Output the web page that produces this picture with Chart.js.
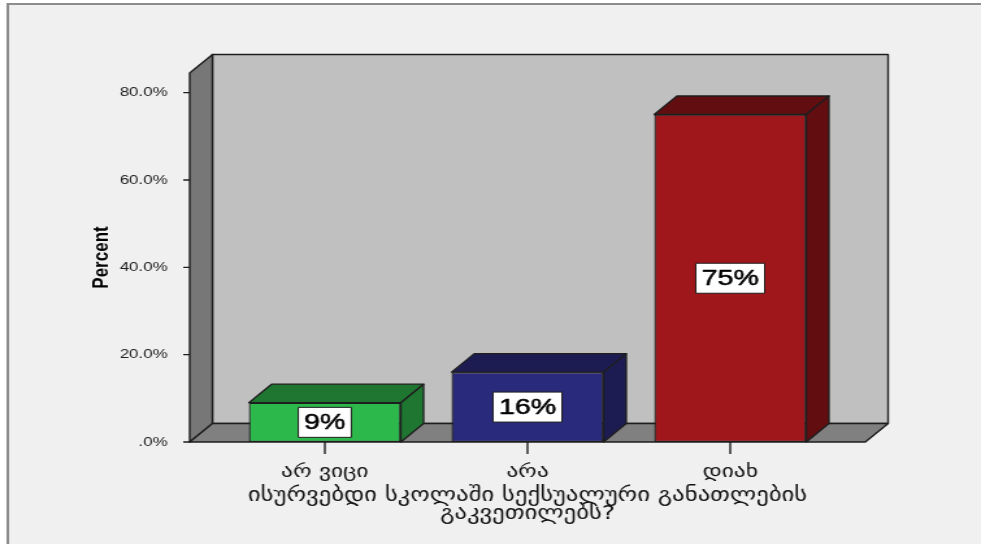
<!DOCTYPE html>
<html>
<head>
<meta charset="utf-8">
<script src="https://cdn.jsdelivr.net/npm/chart.js@4.4.1/dist/chart.umd.min.js"></script>
<style>
  html, body { margin: 0; padding: 0; background: #fff; overflow: hidden; }
  /* chart is laid out narrow and widened sideways, like the exported SPSS picture */
  #wrap { width: 755px; height: 544px; transform: scale(1.2993, 1); transform-origin: 0 0; }
</style>
</head>
<body>
<div id="wrap"><canvas id="surveyChart" width="755" height="544"></canvas></div>
<script>
const categories = ['არ ვიცი', 'არა', 'დიახ'];
const percentValues = [9, 16, 75];
const barColors = ['#2db84b', '#2a2a7c', '#a0171b'];
const barShadeColors = ['#1e7631', '#1c1c52', '#620e11'];
const yTickValues = [0, 20, 40, 60, 80];
const xTitleLines = ['ისურვებდი სკოლაში სექსუალური განათლების', 'გაკვეთილებს?'];

const DEPTH_X = 17.5;
const DEPTH_Y = 18.5;
const SIDE_GAP = 26;
const EDGE = '#1e1e1e';

function poly(ctx, pts, fill) {
    ctx.beginPath();
    ctx.moveTo(pts[0][0], pts[0][1]);
    for (let i = 1; i < pts.length; i++) ctx.lineTo(pts[i][0], pts[i][1]);
    ctx.closePath();
    ctx.fillStyle = fill;
    ctx.fill();
    ctx.stroke();
}

// walls, floor and bar depth faces drawn around the normal bar chart
const box3d = {
    id: 'box3d',
    beforeDraw(chart) {
        const ctx = chart.ctx;
        ctx.save();
        ctx.fillStyle = '#ffffff';
        ctx.fillRect(0, 0, chart.width, chart.height);
        ctx.fillStyle = '#f0f0f0';
        ctx.fillRect(6, 4, chart.width, chart.height);
        ctx.strokeStyle = '#8c8c8c';
        ctx.lineWidth = 2;
        ctx.beginPath();
        ctx.moveTo(6, chart.height);
        ctx.lineTo(6, 4);
        ctx.lineTo(chart.width, 4);
        ctx.stroke();
        ctx.restore();
    },
    beforeDatasetsDraw(chart) {
        const {ctx, chartArea, scales} = chart;
        const x0 = chartArea.left - SIDE_GAP;
        const x1 = chartArea.right + SIDE_GAP;
        const top = scales.y.getPixelForValue(scales.y.max);
        const bottom = scales.y.getPixelForValue(0);
        const dx = DEPTH_X, dy = DEPTH_Y;
        ctx.save();
        ctx.strokeStyle = EDGE;
        ctx.lineWidth = 1.4;
        ctx.lineJoin = 'round';
        poly(ctx, [[x0 + dx, top - dy], [x1 + dx, top - dy], [x1 + dx, bottom - dy], [x0 + dx, bottom - dy]], '#c0c0c0');
        poly(ctx, [[x0, top], [x0 + dx, top - dy], [x0 + dx, bottom - dy], [x0, bottom]], '#777777');
        poly(ctx, [[x0, bottom], [x0 + dx, bottom - dy], [x1 + dx, bottom - dy], [x1, bottom]], '#808080');

        // tick marks on the value axis and below the categories
        ctx.beginPath();
        scales.y.ticks.forEach(t => {
            const py = scales.y.getPixelForValue(t.value);
            ctx.moveTo(x0 - 5, py);
            ctx.lineTo(x0, py);
        });
        categories.forEach((c, i) => {
            const px = scales.x.getPixelForValue(i);
            ctx.moveTo(px, bottom);
            ctx.lineTo(px, bottom + 12);
        });
        ctx.stroke();
        ctx.restore();
    },
    afterDatasetsDraw(chart) {
        const ctx = chart.ctx;
        const meta = chart.getDatasetMeta(0);
        const dx = DEPTH_X, dy = DEPTH_Y;
        ctx.save();
        ctx.strokeStyle = EDGE;
        ctx.lineWidth = 1.3;
        ctx.lineJoin = 'round';
        meta.data.forEach((bar, i) => {
            const {x, y, base, width} = bar.getProps(['x', 'y', 'base', 'width'], true);
            const left = x - width / 2, right = x + width / 2;
            poly(ctx, [[left, y], [left + dx, y - dy], [right + dx, y - dy], [right, y]], barShadeColors[i]);
            poly(ctx, [[right, y], [right + dx, y - dy], [right + dx, base - dy], [right, base]], barShadeColors[i]);

            // value box in the middle of the front face
            const text = percentValues[i] + '%';
            ctx.font = '22px "Liberation Sans", Arial, sans-serif';
            const w = ctx.measureText(text).width + 9;
            const h = 30;
            const cy = (y + base) / 2;
            ctx.fillStyle = '#ffffff';
            ctx.lineWidth = 1;
            ctx.fillRect(x - w / 2, cy - h / 2, w, h);
            ctx.strokeRect(x - w / 2, cy - h / 2, w, h);
            ctx.fillStyle = '#000000';
            ctx.strokeStyle = '#000000';
            ctx.lineWidth = 0.5;
            ctx.textAlign = 'center';
            ctx.textBaseline = 'middle';
            ctx.fillText(text, x, cy + 1);
            ctx.strokeText(text, x, cy + 1);
            ctx.strokeStyle = EDGE;
            ctx.lineWidth = 1.3;
        });
        ctx.restore();
    }
};

const ctx = document.getElementById('surveyChart').getContext('2d');
const surveyChart = new Chart(ctx, {
    type: 'bar',
    data: {
        labels: categories,
        datasets: [{
            label: 'Percent',
            data: percentValues,
            backgroundColor: barColors,
            borderColor: EDGE,
            borderWidth: 1.3,
            borderSkipped: false,
            barPercentage: 0.75,
            categoryPercentage: 1
        }]
    },
    options: {
        responsive: false,
        animation: false,
        devicePixelRatio: 1,
        layout: {
            padding: { left: 60, right: 115, top: 73, bottom: 0 }
        },
        plugins: {
            legend: { display: false },
            tooltip: { enabled: false }
        },
        scales: {
            x: {
                grid: { display: false },
                border: { display: false },
                ticks: {
                    color: '#111',
                    font: { family: '"DejaVu Sans", sans-serif', size: 18 },
                    padding: 12,
                    maxRotation: 0,
                    autoSkip: false
                },
                title: {
                    display: true,
                    text: xTitleLines,
                    color: '#111',
                    font: { family: '"DejaVu Sans", sans-serif', size: 19, lineHeight: 0.95 },
                    padding: { top: 0, bottom: 21 }
                },
                afterFit(scale) { scale.height = 102; }
            },
            y: {
                min: 0,
                max: 84.5,
                grid: { display: false },
                border: { display: false },
                afterBuildTicks(scale) {
                    scale.ticks = yTickValues.map(v => ({ value: v }));
                },
                ticks: {
                    color: '#222',
                    font: { family: '"Liberation Sans", Arial, sans-serif', size: 13 },
                    padding: 35,
                    callback: v => v === 0 ? '.0%' : v.toFixed(1) + '%'
                },
                title: {
                    display: true,
                    text: 'Percent',
                    color: '#000',
                    font: { family: '"Liberation Sans", Arial, sans-serif', size: 17, weight: 'bold' },
                    padding: { top: 8, bottom: 0 }
                },
                afterFit(scale) { scale.width = 112; }
            }
        }
    },
    plugins: [box3d]
});
</script>
</body>
</html>
